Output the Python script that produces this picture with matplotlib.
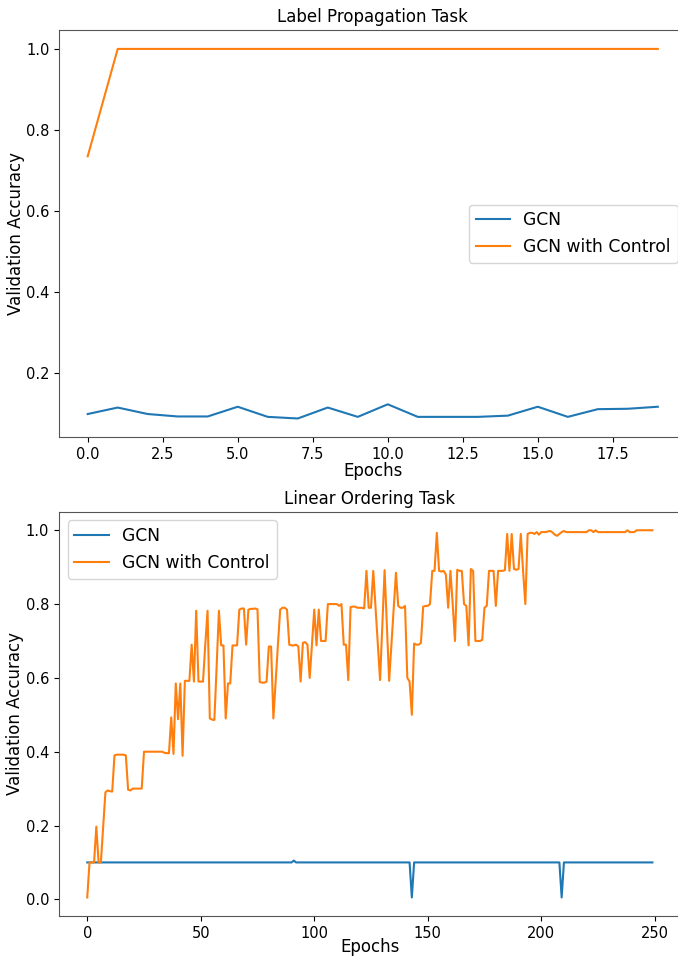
import matplotlib
matplotlib.use("Agg")
import matplotlib.pyplot as plt
import numpy as np

# ---- Label Propagation Task (20 epochs) ----
lp_gcn = [0.099, 0.115, 0.099, 0.093, 0.093, 0.117, 0.092, 0.088, 0.115, 0.092,
          0.123, 0.092, 0.092, 0.092, 0.095, 0.117, 0.092, 0.111, 0.112, 0.117]
lp_ctrl = [0.735] + [1.0] * 19

# ---- Linear Ordering Task (250 epochs) ----
lo_gcn = [0.1] * 250
lo_gcn[91] = 0.105
lo_gcn[143] = 0.005
lo_gcn[209] = 0.005

lo_ctrl = [
    # 0-9
    0.005, 0.1, 0.1, 0.1, 0.197, 0.1, 0.1, 0.195, 0.29, 0.295,
    # 10-19
    0.293, 0.292, 0.39, 0.392, 0.392, 0.392, 0.392, 0.39, 0.297, 0.295,
    # 20-29
    0.3, 0.3, 0.3, 0.3, 0.3, 0.4, 0.4, 0.4, 0.4, 0.4,
    # 30-39
    0.4, 0.4, 0.4, 0.4, 0.397, 0.396, 0.396, 0.493, 0.394, 0.585,
    # 40-49
    0.488, 0.585, 0.389, 0.592, 0.592, 0.592, 0.69, 0.59, 0.782, 0.59,
    # 50-59
    0.59, 0.59, 0.69, 0.782, 0.49, 0.487, 0.486, 0.63, 0.782, 0.688,
    # 60-69
    0.688, 0.49, 0.585, 0.585, 0.688, 0.688, 0.688, 0.785, 0.788, 0.788,
    # 70-79
    0.69, 0.785, 0.787, 0.787, 0.788, 0.786, 0.589, 0.587, 0.587, 0.59,
    # 80-89
    0.685, 0.685, 0.49, 0.59, 0.69, 0.785, 0.79, 0.79, 0.785, 0.69,
    # 90-99
    0.688, 0.688, 0.69, 0.685, 0.59, 0.695, 0.697, 0.69, 0.6, 0.69,
    # 100-109
    0.785, 0.688, 0.785, 0.7, 0.7, 0.7, 0.8, 0.8, 0.8, 0.8,
    # 110-119
    0.8, 0.795, 0.8, 0.69, 0.69, 0.594, 0.792, 0.793, 0.793, 0.79,
    # 120-129
    0.79, 0.79, 0.788, 0.89, 0.79, 0.79, 0.89, 0.79, 0.69, 0.594,
    # 130-139
    0.74, 0.892, 0.74, 0.592, 0.69, 0.79, 0.885, 0.795, 0.79, 0.79,
    # 140-149
    0.795, 0.6, 0.59, 0.5, 0.693, 0.69, 0.69, 0.695, 0.793, 0.795,
    # 150-159
    0.795, 0.8, 0.89, 0.89, 0.993, 0.89, 0.888, 0.89, 0.88, 0.79,
    # 160-169
    0.89, 0.8, 0.7, 0.893, 0.89, 0.89, 0.8, 0.795, 0.688, 0.895,
    # 170-179
    0.89, 0.7, 0.7, 0.7, 0.703, 0.79, 0.795, 0.89, 0.89, 0.89,
    # 180-189
    0.795, 0.89, 0.89, 0.89, 0.892, 0.99, 0.89, 0.99, 0.895, 0.893,
    # 190-199
    0.895, 0.99, 0.89, 0.8, 0.99, 0.993, 0.993, 0.99, 0.995, 0.988,
    # 200-209
    0.995, 0.995, 0.995, 0.997, 0.998, 0.994, 0.988, 0.985, 0.99, 0.995,
    # 210-219
    0.998, 0.995, 0.995, 0.995, 0.995, 0.995, 0.995, 0.995, 0.995, 0.995,
    # 220-229
    0.995, 1.0, 1.0, 0.995, 1.0, 0.995, 0.995, 0.995, 0.995, 0.995,
    # 230-239
    0.995, 0.995, 0.995, 0.995, 0.995, 0.995, 0.995, 0.995, 1.0, 0.995,
    # 240-249
    0.995, 0.995, 1.0, 1.0, 1.0, 1.0, 1.0, 1.0, 1.0, 1.0,
]

labels = ["GCN", "GCN with Control"]
titles = ["Label Propagation Task", "Linear Ordering Task"]

fig = plt.figure(figsize=(6.78, 9.57), dpi=100)
# axes extend slightly past the right edge (the reference is cropped there)
ax1 = fig.add_axes([0.0873, 0.5434, 0.925, 0.4248])
ax2 = fig.add_axes([0.0870, 0.0430, 0.917, 0.4221])

for ax, g, c, t, loc, lp in [(ax1, lp_gcn, lp_ctrl, titles[0], "center right", 0),
                             (ax2, lo_gcn, lo_ctrl, titles[1], "upper left", -1.5)]:
    x = np.arange(len(g))
    ax.plot(x, g, color="#1f77b4", lw=1.5, label=labels[0])
    ax.plot(x, c, color="#ff7f0e", lw=1.5, label=labels[1])
    ax.set_title(t, fontsize=12)
    ax.set_xlabel("Epochs", fontsize=12, labelpad=lp)
    ax.set_ylabel("Validation Accuracy", fontsize=12, labelpad=1)
    ax.tick_params(labelsize=10.5)
    for s in ax.spines.values():
        s.set_color("#555555")
    ax.legend(loc=loc, fontsize=12.3)

fig.savefig("out.png", dpi=100)
